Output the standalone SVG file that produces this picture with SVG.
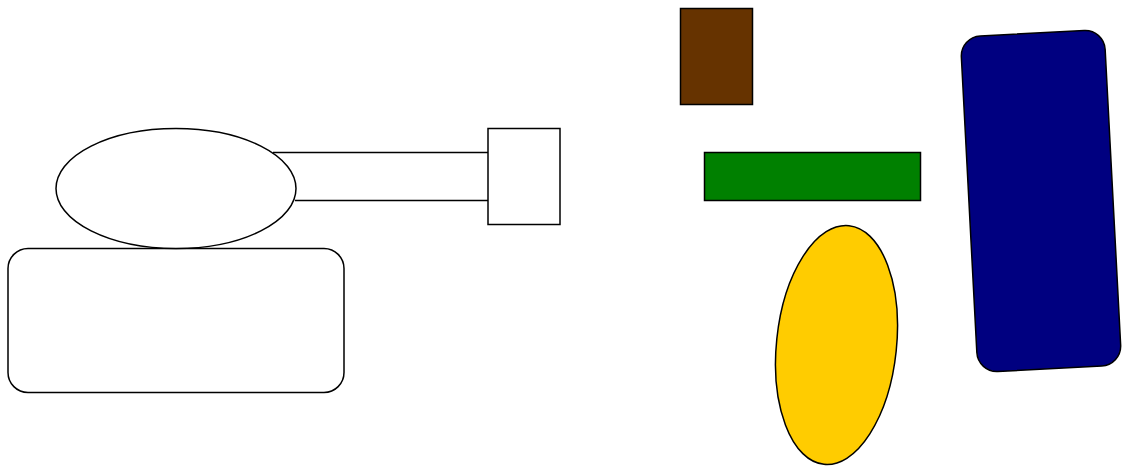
<svg xmlns="http://www.w3.org/2000/svg" width="1123" height="466" viewBox="0 0 1123 466">
<style>
.s{stroke:#000;stroke-width:1.5}
.w{fill:#fff}
</style>
<rect width="1123" height="466" fill="#fff"/>
<g id="connectors">
<line class="s" x1="273" y1="152.5" x2="488" y2="152.5"/>
<line class="s" x1="295" y1="200.5" x2="488" y2="200.5"/>
</g>
<g id="body"><rect class="s w" x="8" y="248.5" width="336" height="144" rx="20"/></g>
<g id="head"><ellipse class="s w" cx="176" cy="188.5" rx="120" ry="60"/></g>
<g id="block"><rect class="s w" x="488" y="128.5" width="72" height="96"/></g>
<g id="brown"><rect class="s" fill="#663300" x="680.5" y="8.5" width="72" height="96"/></g>
<g id="green"><rect class="s" fill="#008000" x="704.5" y="152.5" width="216" height="48"/></g>
<g id="yellow"><ellipse class="s" fill="#ffcc00" cx="836.5" cy="345" rx="60" ry="120" transform="rotate(6 836.5 345)"/></g>
<g id="navy"><rect class="s" fill="#000080" x="969" y="33" width="144" height="336" rx="20" transform="rotate(-3 1041 201)"/></g>
</svg>
